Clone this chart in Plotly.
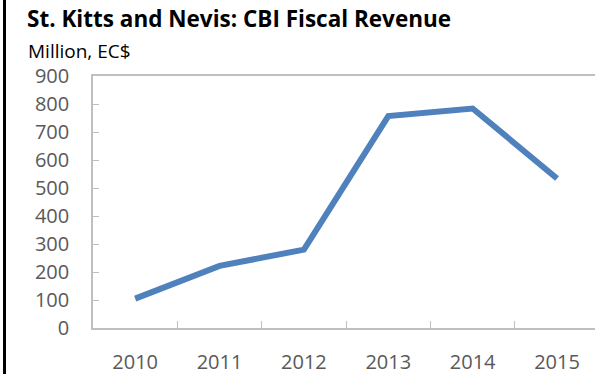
import plotly.graph_objects as go

# CBI fiscal revenue, million EC$
years = ["2010", "2011", "2012", "2013", "2014", "2015"]
revenue = [105, 222, 280, 757, 784, 534]
y_ticks = [0, 100, 200, 300, 400, 500, 600, 700, 800, 900]

W, H = 595, 374
L, R, T, B = 93, 0, 76, 46
PW, PH = W - L - R, H - T - B


def px_x(p):
    return (p - L) / PW


def px_y(p):
    return (H - B - p) / PH


fig = go.Figure(
    go.Scatter(
        x=years,
        y=revenue,
        mode="lines",
        line=dict(color="#4F81BD", width=6),
        hoverinfo="x+y",
    )
)

axis_color = "#BFBFBF"
tick_font = dict(family="Open Sans", size=20, color="#595959")

fig.update_layout(
    width=W,
    height=H,
    margin=dict(l=L, r=R, t=T, b=B),
    paper_bgcolor="white",
    plot_bgcolor="white",
    showlegend=False,
    xaxis=dict(
        type="category",
        range=[-0.5, 5.45],
        showgrid=False,
        zeroline=False,
        showline=True,
        linecolor=axis_color,
        linewidth=1.5,
        mirror=True,
        ticks="inside",
        tickson="boundaries",
        ticklen=7,
        tickcolor=axis_color,
        tickfont=tick_font,
        ticklabelstandoff=15,
    ),
    yaxis=dict(
        range=[0, 900],
        tickvals=y_ticks,
        showgrid=False,
        zeroline=False,
        showline=True,
        linecolor=axis_color,
        linewidth=1.5,
        ticks="inside",
        ticklen=6,
        tickcolor=axis_color,
        tickfont=tick_font,
        ticklabelstandoff=18,
    ),
    annotations=[
        dict(
            text="<b>St. Kitts and Nevis: CBI Fiscal Revenue</b>",
            xref="paper", yref="paper",
            x=px_x(25), y=px_y(19),
            xanchor="left", yanchor="middle",
            showarrow=False,
            font=dict(family="Open Sans", size=22.5, color="black"),
        ),
        dict(
            text="Million, EC$",
            xref="paper", yref="paper",
            x=px_x(26), y=px_y(51),
            xanchor="left", yanchor="middle",
            showarrow=False,
            font=dict(family="Open Sans", size=19, color="black"),
        ),
    ],
    shapes=[
        dict(
            type="line",
            xref="paper", yref="paper",
            x0=px_x(4.5), x1=px_x(4.5),
            y0=px_y(0), y1=px_y(H),
            line=dict(color="black", width=3),
        )
    ],
)

fig.write_html("out.html")
